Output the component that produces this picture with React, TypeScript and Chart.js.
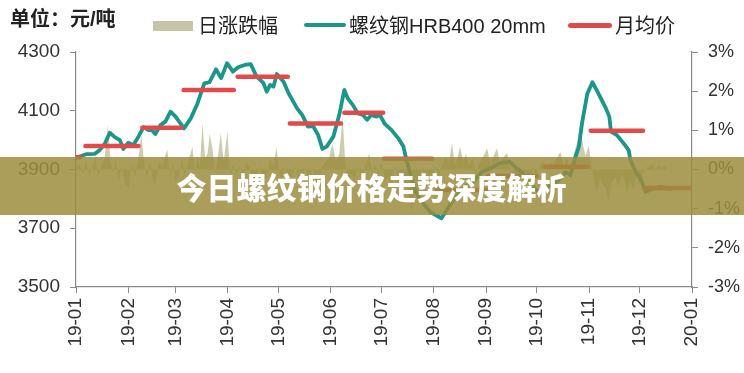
import React, { useEffect, useRef } from "react";
import { Chart, registerables } from "chart.js";

Chart.register(...registerables);

// ---- Data (x = day of year 2019, 0 = Jan 1) ----
const tickDays = [0, 31, 59, 90, 120, 151, 181, 212, 243, 273, 304, 334, 365];
const tickLabels = ["19-01", "19-02", "19-03", "19-04", "19-05", "19-06", "19-07", "19-08", "19-09", "19-10", "19-11", "19-12", "20-01"];

const priceDays = [0, 3, 6, 11, 14, 17, 20, 23, 26, 28, 31, 34, 37, 40, 43, 45, 47, 50, 53, 56, 59, 64, 68, 72, 76, 79, 83, 86, 89.5, 93, 96, 100, 103.5, 107, 111, 113, 115, 117, 119, 123, 126, 131, 134, 137.5, 140.5, 143.5, 146, 148.5, 152.5, 156, 159, 161, 164, 167, 170, 172.5, 175, 178, 180, 183, 187, 191, 194, 196, 198, 200, 204, 210, 216.5, 218.5, 223.5, 229.5, 236.5, 240.5, 245.5, 251, 257, 261, 264, 268, 274, 278.5, 285, 290, 293, 296, 298, 300, 303, 306, 309, 311, 314, 316, 317, 320.5, 324.5, 327.5, 328.5, 331.5, 334.5, 337.5, 342.5, 346.5, 352];
const priceValues = [3940, 3946, 3952, 3953, 3966, 3987, 4025, 4010, 4000, 3970, 3991, 3983, 4012, 4044, 4034, 4034, 4021, 4051, 4063, 4097, 4080, 4040, 4074, 4125, 4193, 4197, 4241, 4211, 4262, 4233, 4248, 4256, 4259, 4216, 4195, 4165, 4188, 4182, 4225, 4199, 4159, 4108, 4086, 4046, 4048, 4017, 3970, 3978, 4012, 4086, 4171, 4142, 4120, 4091, 4086, 4069, 4086, 4080, 4086, 4055, 4034, 4006, 3978, 3927, 3887, 3841, 3796, 3755, 3734, 3751, 3796, 3837, 3864, 3892, 3904, 3921, 3927, 3904, 3892, 3857, 3823, 3837, 3858, 3891, 3881, 3944, 3978, 4063, 4159, 4197, 4165, 4142, 4108, 4080, 4029, 4017, 3989, 3966, 3932, 3893, 3870, 3824, 3836, 3841, 3834];

const avgStart = [0, 5.6, 39.3, 63.8, 95.8, 126.7, 159, 182.5, 214, 244, 278, 305, 337];
const avgEnd = [2.5, 37, 62.4, 93.5, 125.5, 157, 182, 211, 243.5, 273, 303, 336, 366];
const avgValues = [3942, 3980, 4042, 4171, 4216, 4057, 4093, 3937, 3830, 3878, 3909, 4032, 3837];

const changeDays = [0, 2, 4, 6, 8, 10, 11.6, 13, 15, 17, 18.9, 20.5, 22, 23.5, 25.4, 27, 29, 31.3, 33, 35, 37, 38.7, 40.5, 42, 44, 45.5, 47.2, 49, 51, 52.5, 54.1, 56, 57.5, 59, 61, 63, 64.5, 66, 67.5, 69, 70.5, 72, 73.5, 74.9, 76.5, 78, 79.2, 80.8, 82.5, 84, 85.8, 87.5, 89.7, 91.5, 93, 95, 97, 99, 101, 103, 105, 107, 109, 111, 113, 115, 117, 118.8, 120.5, 122, 124, 126, 128, 130, 132, 134, 136, 138, 140, 142, 144, 146, 148, 150, 152, 154, 156, 158, 159.5, 161, 163, 165, 167, 169, 171, 173.8, 175.5, 177, 179, 181, 183, 185, 187, 189, 191, 193, 195, 197, 199, 201, 203, 205, 207, 209, 211, 213, 215, 217, 219, 221, 222.8, 224.5, 226, 227.6, 229.5, 231, 233, 235, 237, 239, 241, 243.6, 245.5, 247, 249.4, 251, 253, 255.5, 257, 259, 261, 263, 265, 267, 269, 271, 273, 275, 277, 279, 281, 283, 285, 287, 289, 291, 293, 295, 297, 298.8, 300.5, 302, 303.7, 305.5, 307, 308.7, 310.5, 312, 314, 315.6, 317.5, 319.5, 321.5, 323.5, 325, 326.5, 328.5, 330, 332, 334, 336, 338.4, 340, 341.5, 343, 345, 347, 349, 350];
const changeValues = [0.05, 0.15, -0.1, 0.2, -0.15, 0.1, 0.35, -0.2, 0.1, 0.3, 1.14, 0.2, -0.1, 0.25, -0.31, 0.1, -0.35, -0.48, 0.15, -0.2, 0.3, 0.88, 0.1, -0.25, 0.2, -0.3, -0.4, 0.2, 0.1, 0.3, 0.5, -0.2, 0.25, -0.35, -0.15, 0.3, -0.2, 0.15, 0.35, 0.58, -0.1, 0.35, 0.1, 1.18, 0.3, 0.4, 0.92, 0.55, -0.1, 0.3, 0.94, 0.2, 0.97, -0.2, 0.15, -0.15, 0.1, -0.25, 0.2, 0.05, -0.3, -0.15, 0.1, -0.35, -0.2, 0.3, 0.05, 0.59, -0.1, -0.3, 0.1, -0.4, -0.2, 0.1, -0.3, -0.25, 0.1, -0.45, 0.05, -0.3, -0.5, 0.1, 0.2, 0.3, 0.67, 0.2, 0.4, 1.35, 0.2, -0.3, -0.1, -0.3, 0.1, -0.2, 0.05, 0.41, -0.1, 0.15, -0.1, 0.2, -0.3, -0.2, -0.4, 0.1, -0.3, -0.5, -0.3, -0.7, -1.12, -0.4, -0.6, 0.1, -0.5, -0.3, -0.4, 0.1, -0.2, 0.15, 0.3, 0.2, 0.67, 0.1, 0.3, 0.58, 0.2, 0.4, 0.1, 0.3, -0.1, 0.2, 0.3, 0.54, 0.15, 0.3, 0.54, 0.2, 0.3, 0.42, 0.05, -0.2, -0.3, -0.1, -0.35, -0.15, -0.3, 0.05, -0.2, 0.1, 0.25, -0.1, 0.2, 0.1, 0.3, 0.45, 0.1, 0.3, -0.2, 0.4, 0.7, 1.22, 0.6, 0.35, 0.62, 0.1, -0.3, -0.6, -0.2, -0.4, -0.5, -0.82, -0.3, -0.2, -0.44, -0.1, -0.3, -0.61, -0.3, -0.5, -0.2, -0.4, -0.1, 0.07, 0.05, 0.17, -0.05, 0.1, 0.05, 0.1, 0];

const leftTicks = [3500, 3700, 3900, 4100, 4300];
const rightTicks = [-3, -2, -1, 0, 1, 2, 3];

const TEAL = "#1b968a";
const RED = "#e24a4a";
const AREA = "rgba(172,172,130,0.62)";
const AXIS = "#8a8a8a";
const FONT = '"Liberation Sans", Arial, "Noto Sans CJK SC", sans-serif';

export default function App() {
  const canvasRef = useRef<HTMLCanvasElement | null>(null);

  useEffect(() => {
    const canvas = canvasRef.current;
    if (!canvas) return;

    const avgData: any[] = [];
    avgStart.forEach((s, i) => {
      avgData.push({ x: s, y: avgValues[i] });
      avgData.push({ x: avgEnd[i], y: avgValues[i] });
      avgData.push({ x: avgEnd[i] + 0.05, y: null });
    });

    const chart = new Chart(canvas, {
      type: "line",
      data: {
        datasets: [
          {
            label: "月均价",
            data: avgData,
            borderColor: RED,
            borderWidth: 4.5,
            borderCapStyle: "round",
            pointRadius: 0,
            spanGaps: false,
            yAxisID: "y",
            order: 0,
          },
          {
            label: "螺纹钢HRB400 20mm",
            data: priceDays.map((d, i) => ({ x: d, y: priceValues[i] })),
            borderColor: TEAL,
            borderWidth: 3.8,
            borderJoinStyle: "round",
            borderCapStyle: "round",
            pointRadius: 0,
            tension: 0,
            yAxisID: "y",
            order: 1,
          },
          {
            label: "日涨跌幅",
            data: changeDays.map((d, i) => ({ x: d, y: changeValues[i] })),
            borderWidth: 0,
            borderColor: "rgba(0,0,0,0)",
            backgroundColor: AREA,
            fill: "origin",
            pointRadius: 0,
            tension: 0,
            yAxisID: "y1",
            order: 2,
          },
        ],
      },
      options: {
        responsive: false,
        animation: false,
        layout: { padding: { top: 52, left: 0, right: 0, bottom: 0 } },
        plugins: {
          legend: { display: false },
          tooltip: { enabled: false },
        },
        scales: {
          x: {
            type: "linear",
            min: 0,
            max: 365,
            afterBuildTicks: (scale: any) => {
              scale.ticks = tickDays.map((v) => ({ value: v }));
            },
            afterFit: (scale: any) => {
              scale.height = 86;
            },
            grid: { display: true, drawOnChartArea: false, drawTicks: true, tickLength: 6, color: AXIS },
            border: { display: true, color: AXIS, width: 1.2 },
            ticks: {
              autoSkip: false,
              maxRotation: 90,
              minRotation: 90,
              padding: 5,
              color: "#333",
              font: { family: FONT, size: 19 },
              callback: (value: any) => {
                const i = tickDays.indexOf(Number(value));
                return i >= 0 ? tickLabels[i] : "";
              },
            },
          },
          y: {
            type: "linear",
            position: "left",
            min: 3500,
            max: 4300,
            afterBuildTicks: (scale: any) => {
              scale.ticks = leftTicks.map((v) => ({ value: v }));
            },
            afterFit: (scale: any) => {
              scale.width = 76;
            },
            grid: { display: true, drawOnChartArea: false, drawTicks: true, tickLength: 6, color: AXIS },
            border: { display: true, color: AXIS, width: 1.2 },
            ticks: {
              padding: 10,
              color: "#333",
              font: { family: FONT, size: 19 },
              callback: (v: any) => String(v),
            },
          },
          y1: {
            type: "linear",
            position: "right",
            min: -3,
            max: 3,
            afterBuildTicks: (scale: any) => {
              scale.ticks = rightTicks.map((v) => ({ value: v }));
            },
            afterFit: (scale: any) => {
              scale.width = 52;
            },
            grid: { display: true, drawOnChartArea: false, drawTicks: true, tickLength: 6, color: AXIS },
            border: { display: true, color: AXIS, width: 1.2 },
            ticks: {
              padding: 10,
              color: "#333",
              font: { family: FONT, size: 18 },
              callback: (v: any) => v + "%",
            },
          },
        },
      },
    } as any);

    return () => chart.destroy();
  }, []);

  const legendText: React.CSSProperties = {
    position: "absolute",
    top: 15,
    fontFamily: FONT,
    fontSize: 20,
    lineHeight: "22px",
    color: "#222",
    whiteSpace: "nowrap",
  };

  return (
    <div style={{ position: "absolute", left: 0, top: 0, width: 744, height: 373, background: "#fff", overflow: "hidden" }}>
      <canvas ref={canvasRef} width={744} height={373} style={{ position: "absolute", left: 0, top: 0, width: 744, height: 373 }} />
      <div style={{ position: "absolute", left: 10, top: 8, fontFamily: FONT, fontSize: 20, lineHeight: "22px", fontWeight: 700, color: "#222", whiteSpace: "nowrap" }}>
        单位：元/吨
      </div>
      <div style={{ position: "absolute", left: 153, top: 21, width: 40, height: 10, background: "#c6c6a6" }} />
      <div style={{ ...legendText, left: 198 }}>日涨跌幅</div>
      <div style={{ position: "absolute", left: 304, top: 23, width: 42, height: 4, borderRadius: 2, background: TEAL }} />
      <div style={{ ...legendText, left: 349 }}>螺纹钢HRB400 20mm</div>
      <div style={{ position: "absolute", left: 568, top: 22.5, width: 44, height: 5, borderRadius: 3, background: RED }} />
      <div style={{ ...legendText, left: 615 }}>月均价</div>
      <div
        style={{
          position: "absolute",
          left: 0,
          top: 157,
          width: 744,
          height: 58,
          background: "rgba(155,141,61,0.85)",
          display: "flex",
          alignItems: "center",
          justifyContent: "center",
        }}
      >
        <span style={{ fontFamily: '"Noto Sans CJK SC", sans-serif', fontWeight: 900, fontSize: 30, color: "#fff", lineHeight: "30px", marginLeft: -1 }}>
          今日螺纹钢价格走势深度解析
        </span>
      </div>
    </div>
  );
}
